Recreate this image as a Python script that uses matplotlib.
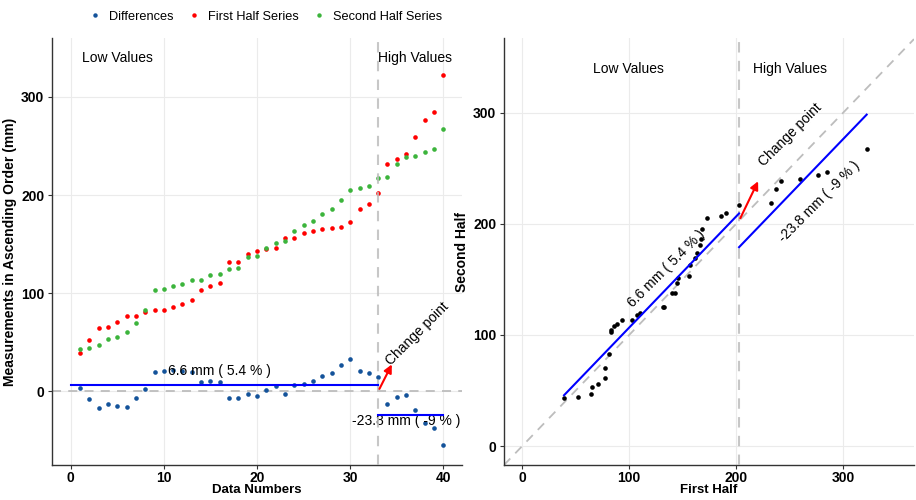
import numpy as np
import matplotlib
matplotlib.use("Agg")
import matplotlib.pyplot as plt
from matplotlib.lines import Line2D

plt.rcParams['font.family'] = ['Liberation Sans', 'DejaVu Sans']

# --- data ---
index = np.arange(1, 41)
first_half = [39.1, 52.0, 64.1, 65.5, 70.9, 77.0, 77.0, 81.0, 83.4, 83.4,
              85.7, 88.8, 93.5, 103.0, 107.7, 110.0, 131.3, 132.3, 140.1, 143.2,
              144.9, 145.9, 156.0, 156.6, 161.4, 163.4, 165.8, 166.8, 167.8, 172.2,
              186.0, 190.8, 202.6, 232.0, 237.1, 242.1, 259.4, 276.2, 284.3, 321.8]
second_half = [42.9, 44.6, 46.9, 53.0, 55.7, 60.8, 69.9, 83.0, 103.0, 104.4,
               107.7, 109.4, 113.0, 113.0, 118.1, 119.9, 124.9, 125.2, 137.4, 138.1,
               146.5, 151.0, 153.3, 163.1, 169.2, 173.6, 181.0, 186.0, 194.8, 205.3,
               206.7, 209.3, 217.1, 218.8, 231.6, 238.7, 240.1, 243.8, 246.8, 267.1]
change_idx = 33
low_label = "6.6 mm ( 5.4 % )"
high_label = "-23.8 mm ( -9 % )"

first = np.array(first_half)
second = np.array(second_half)
diff = second - first
low_shift = diff[:change_idx].mean()
high_shift = diff[change_idx:].mean()
cp_value = first[change_idx - 1]

c_diff = '#14539a'
c_first = '#ff0000'
c_second = '#3cb43c'
c_dash = '#bdbdbd'
ms = 11

fig = plt.figure(figsize=(9.16, 5.0), dpi=100)
ax1 = fig.add_axes([0.0568, 0.070, 0.4476, 0.854])
ax2 = fig.add_axes([0.5502, 0.070, 0.4476, 0.854])

for ax in (ax1, ax2):
    ax.grid(True, color='#ebebeb', linewidth=0.8)
    ax.set_axisbelow(True)
    for s in ('top', 'right'):
        ax.spines[s].set_visible(False)
    for s in ('left', 'bottom'):
        ax.spines[s].set_color('#333333')
        ax.spines[s].set_linewidth(1.0)
    ax.tick_params(length=3, width=0.8, color='#333333', labelsize=10, pad=2.5)
    ax.tick_params(axis='x', pad=1.2)

# --- left panel ---
ax1.scatter(index, diff, s=ms, color=c_diff, zorder=3, linewidths=0)
ax1.scatter(index, first, s=ms, color=c_first, zorder=3, linewidths=0)
ax1.scatter(index, second, s=ms, color=c_second, zorder=3, linewidths=0)
ax1.axhline(0, color=c_dash, linestyle=(0, (5, 4)), linewidth=1.3, zorder=2)
ax1.axvline(change_idx, color=c_dash, linestyle=(0, (5, 4)), linewidth=1.5, alpha=0.85, zorder=4)
ax1.plot([0, change_idx], [low_shift, low_shift], color='blue', linewidth=1.5, zorder=4)
ax1.plot([change_idx, index[-1]], [high_shift, high_shift], color='blue', linewidth=1.5, zorder=4)
ax1.annotate('', xy=(34.6, 30), xytext=(change_idx, 0),
             arrowprops=dict(arrowstyle='-|>', color='red', lw=1.5, mutation_scale=12), zorder=5)
ax1.text(37.2, 59, 'Change point', rotation=45, ha='center', va='center', fontsize=10)
ax1.text(16.0, 20.3, low_label, ha='center', va='center', fontsize=10)
ax1.text(36.0, -29.8, high_label, ha='center', va='center', fontsize=10)
ax1.text(5.0, 340, 'Low Values', ha='center', va='center', fontsize=10)
ax1.text(37.0, 340, 'High Values', ha='center', va='center', fontsize=10)
ax1.set_xlim(-2, 42)
ax1.set_ylim(-75, 360)
ax1.set_xticks([0, 10, 20, 30, 40])
ax1.set_yticks([0, 100, 200, 300])
ax1.set_xticklabels(['0', '10', '20', '30', '40'], fontweight='bold')
ax1.set_yticklabels(['0', '100', '200', '300'], fontweight='bold')
ax1.set_xlabel('Data Numbers', fontweight='bold', fontsize=9.5, va='center')
ax1.xaxis.set_label_coords(0.5, -0.058)
ax1.set_ylabel('Measurements in Ascending Order (mm)', fontweight='bold', fontsize=10, labelpad=3)

# --- right panel ---
ax2.scatter(first, second, s=ms, color='black', zorder=3, linewidths=0)
ax2.axline((0, 0), (1, 1), color=c_dash, linestyle=(0, (5, 4)), linewidth=1.3, zorder=2)
ax2.axvline(cp_value, color=c_dash, linestyle=(0, (5, 4)), linewidth=1.5, alpha=0.85, zorder=4)
ax2.plot([first[0], cp_value], [first[0] + low_shift, cp_value + low_shift],
         color='blue', linewidth=1.5, zorder=4)
ax2.plot([cp_value, first[-1]], [cp_value + high_shift, first[-1] + high_shift],
         color='blue', linewidth=1.5, zorder=4)
ax2.annotate('', xy=(221.5, 240.4), xytext=(cp_value, cp_value),
             arrowprops=dict(arrowstyle='-|>', color='red', lw=1.5, mutation_scale=12), zorder=5)
ax2.text(250.2, 279.8, 'Change point', rotation=45, ha='center', va='center', fontsize=10)
ax2.text(135.0, 159.8, low_label, rotation=45, ha='center', va='center', fontsize=10)
ax2.text(277.3, 219.5, high_label, rotation=45, ha='center', va='center', fontsize=10)
ax2.text(98.8, 339, 'Low Values', ha='center', va='center', fontsize=10)
ax2.text(250.0, 339, 'High Values', ha='center', va='center', fontsize=10)
ax2.set_xlim(-17, 366)
ax2.set_ylim(-17, 367)
ax2.set_xticks([0, 100, 200, 300])
ax2.set_yticks([0, 100, 200, 300])
ax2.set_xticklabels(['0', '100', '200', '300'], fontweight='bold')
ax2.set_yticklabels(['0', '100', '200', '300'], fontweight='bold')
ax2.set_xlabel('First Half', fontweight='bold', fontsize=9.5, va='center')
ax2.xaxis.set_label_coords(0.5, -0.058)
ax2.set_ylabel('Second Half', fontweight='bold', fontsize=10, labelpad=3)

# --- legend ---
handles = [Line2D([], [], marker='o', linestyle='', markersize=3.2, color=c, markeredgewidth=0)
           for c in (c_diff, c_first, c_second)]
fig.legend(handles, ['Differences', 'First Half Series', 'Second Half Series'],
           loc='center', bbox_to_anchor=(0.289, 0.967), ncol=3, frameon=False,
           fontsize=9.2, handletextpad=0.5, columnspacing=1.0, handlelength=1.2)

fig.savefig('out.png', dpi=100)
